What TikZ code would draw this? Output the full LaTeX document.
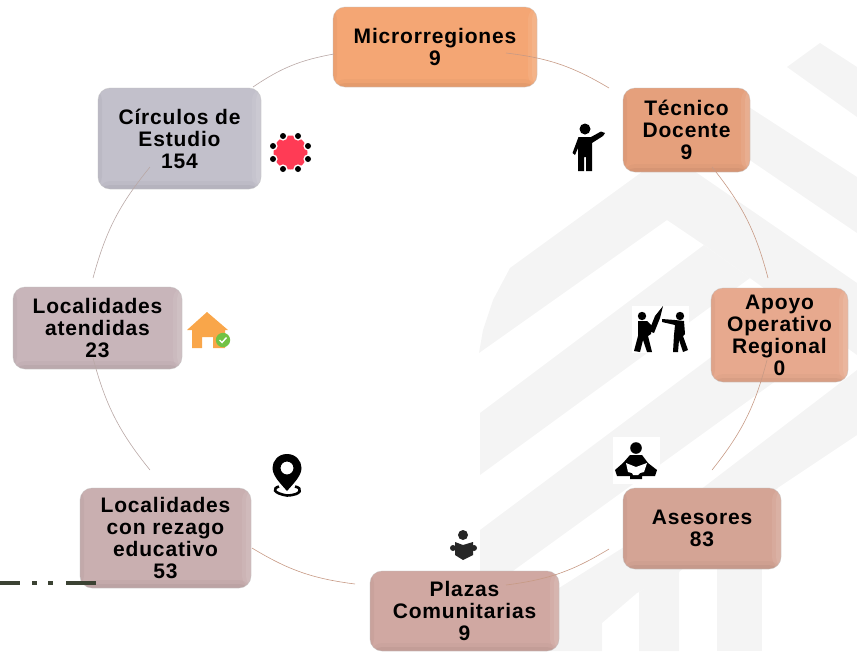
\documentclass[tikz,border=0pt]{standalone}
\usepackage{fontspec}
\setmainfont{Liberation Sans}[LetterSpace=4]
\definecolor{fondo}{HTML}{F4F4F4}
\definecolor{cmicro}{HTML}{F4A674}
\definecolor{ctecnico}{HTML}{E5A07C}
\definecolor{capoyo}{HTML}{E7A98E}
\definecolor{casesor}{HTML}{D4A495}
\definecolor{cplaza}{HTML}{D0A8A2}
\definecolor{crezago}{HTML}{C9AFB0}
\definecolor{catendida}{HTML}{C8B5BA}
\definecolor{ccirculo}{HTML}{C2C0CB}
\definecolor{enlacea}{HTML}{C79A85}
\definecolor{enlaceb}{HTML}{B9A8A6}
\definecolor{casa}{HTML}{F9A64A}
\definecolor{raya}{HTML}{3B4233}
\definecolor{rojo}{HTML}{FF3B55}
\definecolor{verde}{HTML}{72C244}
\tikzset{
  caja/.style={shape=rectangle,rounded corners=12pt,align=center,inner sep=0pt,
    draw=black!25,draw opacity=.45,line width=.7pt,
    font=\bfseries\fontsize{21}{22}\selectfont,
    path picture={
      \fill[white,opacity=.07] ([xshift=-9pt]path picture bounding box.north east) rectangle (path picture bounding box.south east);
      \fill[white,opacity=.09] ([xshift=-5pt]path picture bounding box.north east) rectangle (path picture bounding box.south east);
      \fill[black,opacity=.025] ([yshift=8pt]path picture bounding box.south west) rectangle (path picture bounding box.south east);
      \fill[black,opacity=.04] ([yshift=4pt]path picture bounding box.south west) rectangle (path picture bounding box.south east);
      \fill[black,opacity=.03] (path picture bounding box.north west) rectangle ([xshift=4pt]path picture bounding box.south west);
    }},
  enlace/.style={line width=.6pt,enlaceb},
  icono/.style={black}
}
\begin{document}
\begin{tikzpicture}[x=1pt,y=-1pt]
\useasboundingbox (0,0) rectangle (857,651);
\fill [fondo] (787,67) -- (820,43) -- (857,67) -- (857,117) -- cycle;
\fill [fondo] (735,98) -- (857,177) -- (857,233) -- (735,150) -- cycle;
\fill [fondo] (479,353) -- (483,330) -- (493,300) -- (510,268) -- (668,153) -- (857,283) -- (857,355) -- (704,245) -- (667,220) -- cycle;
\fill [fondo] (704,245) -- (480,413) -- (480,475) -- (750,278) -- cycle;
\fill [fondo] (480,530) -- (730,343) -- (790,370) -- (777,380) -- (517,568) -- (480,595) -- cycle;
\fill [fondo] (540,600) -- (624,547) -- (704,487) -- (844,380) -- (857,370) -- (857,435) -- (779,487) -- (679,572) -- (637,593) -- (602,623) -- (602,651) -- (540,651) -- cycle;
\fill [fondo] (639,592) -- (679,570) -- (679,651) -- (639,651) -- cycle;
\fill [fondo] (717,560) rectangle (762,651);

\node (micro)     at (435,47)     [caja,fill=cmicro,minimum width=204pt,minimum height=80pt] {Microrregiones\\9};
\node (tecnico)   at (686.5,130)  [caja,fill=ctecnico,minimum width=127pt,minimum height=84pt] {Técnico\\Docente\\9};
\node (apoyo)     at (779.5,335)  [caja,fill=capoyo,minimum width=137pt,minimum height=94pt] {Apoyo\\Operativo\\Regional\\0};
\node (asesores)  at (702,528.5)  [caja,fill=casesor,minimum width=158pt,minimum height=81pt] {Asesores\\83};
\node (plazas)    at (464.5,611)  [caja,fill=cplaza,minimum width=189pt,minimum height=80pt] {Plazas\\Comunitarias\\9};
\node (rezago)    at (165.5,538)  [caja,fill=crezago,minimum width=171pt,minimum height=100pt] {Localidades\\con rezago\\educativo\\53};
\node (atendidas) at (97.5,328)   [caja,fill=catendida,minimum width=169pt,minimum height=82pt] {Localidades\\atendidas\\23};
\node (circulos)  at (179.5,138.5)[caja,fill=ccirculo,minimum width=163pt,minimum height=101pt] {Círculos de\\Estudio\\154};

\draw [enlace,enlacea] ([shift={(71,6)}]micro.center) to[bend left=12] ([shift={(-77.5,-42)}]tecnico.center);
\draw [enlace,enlacea] ([shift={(25.5,37)}]tecnico.center) to[bend left=12] ([shift={(-11.5,-57)}]apoyo.center);
\draw [enlace,enlacea] ([shift={(-12.5,25)}]apoyo.center) to[bend left=12] ([shift={(10,-58.5)}]asesores.center);
\draw [enlace,enlacea] ([shift={(-93,20.5)}]asesores.center) to[bend left=12] ([shift={(41.5,-26)}]plazas.center);
\draw [enlace,enlacea] ([shift={(-109.5,-27)}]plazas.center) to[bend left=12] ([shift={(86.5,10)}]rezago.center);
\draw [enlace] ([shift={(-15.5,-68)}]rezago.center) to[bend left=12] ([shift={(-4.5,30)}]atendidas.center);
\draw [enlace] ([shift={(-4.5,-50)}]atendidas.center) to[bend left=12] ([shift={(-29.5,28.5)}]circulos.center);
\draw [enlace] ([shift={(73.5,-51.5)}]circulos.center) to[bend left=12] ([shift={(-101,7)}]micro.center);

\coordinate (rayaa) at (0,583);
\coordinate (rayab) at (96,583);
\draw [line width=4pt,raya,dash pattern=on 20pt off 12pt on 5pt off 11pt on 5pt off 13pt on 31pt] (rayaa) -- (rayab);

\fill [icono] (585,129) circle (5.5);
\fill [icono] (578.5,137) -- (591,137) -- (601,131.5) -- (605,133) -- (603,136) -- (592,143) -- (592,171) -- (586,171) -- (586,157) -- (584,157) -- (584,171) -- (578,171) -- (578,148) -- (575,155) -- (572.5,153) -- cycle;

\fill [white] (632,306) rectangle (689,353);
\fill [icono] (642,316) circle (4.2) (680,316) circle (4.2);
\fill [icono] (638,321) -- (647,321) -- (652,326) -- (651,334) -- (648,336) -- (652,352) -- (647,352) -- (643,340) -- (640,352) -- (634,351) -- (638,336) -- cycle;
\fill [icono] (662,319) -- (675,320) -- (684,321) -- (685,334) -- (683,336) -- (688,350) -- (683,352) -- (679,340) -- (678,352) -- (673,352) -- (674,335) -- (675,325) -- (662,322) -- cycle;
\fill [icono] (663,306) -- (660,318) -- (654,333) -- (649,331) -- (655,316) -- cycle;

\fill [white] (613,437) rectangle (660,484);
\fill [icono] (636,448) circle (5.8);
\fill [icono] (630,455) -- (642,455) -- (648,463) -- (657,470) -- (655,476) -- (642,476) -- (642,479) -- (630,479) -- (630,476) -- (617,476) -- (615,470) -- (623,463) -- cycle;
\fill [white] (626,463) -- (636,467) -- (647,463) -- (644,472) -- (640,473) -- (638,475) -- (633,475) -- (632,473) -- (628,472) -- cycle;

\fill [black!85] (463,535) circle (5);
\fill [black!85] (453,548) circle (3) (474,548) circle (3);
\fill [black!85] (455,542) -- (463,545) -- (473,542) -- (473,555) -- (463,560) -- (455,555) -- cycle;

\fill [casa] (207,312) -- (228,330) -- (225,330) -- (225,348) -- (213,348) -- (213,337) -- (202,337) -- (202,348) -- (192,348) -- (192,330) -- (187,330) -- cycle;
\fill [verde] (223,340) circle (7.2);
\draw [white,line width=1.4pt] (219.5,340) -- (222,342.5) -- (226.5,337.5);

\fill [black,even odd rule] (287,454) .. controls (278,454) and (272.5,461) .. (272.5,468) .. controls (272.5,476) and (281,484) .. (287,491) .. controls (293,484) and (301.5,476) .. (301.5,468) .. controls (301.5,461) and (296,454) .. (287,454) -- cycle (293.5,468) arc (0:360:6.5);
\draw [black,line width=2.6pt] (279,486.5) .. controls (273,488) and (272,493) .. (287,495.5) .. controls (302,495) and (303,488) .. (295,486.5);

\fill [white] (290.5,152.5) circle (19);
\fill [rojo] (290.5,152.5) circle (17);
\fill [white] (283,136) circle (4.6) (298,136) circle (4.6) (308,146) circle (4.6) (308,159) circle (4.6) (298,169) circle (4.6) (283,169) circle (4.6) (273,159) circle (4.6) (273,146) circle (4.6);
\fill [black] (283,136) circle (3) (298,136) circle (3) (308,146) circle (3) (308,159) circle (3) (298,169) circle (3) (283,169) circle (3) (273,159) circle (3) (273,146) circle (3);
\end{tikzpicture}
\end{document}
